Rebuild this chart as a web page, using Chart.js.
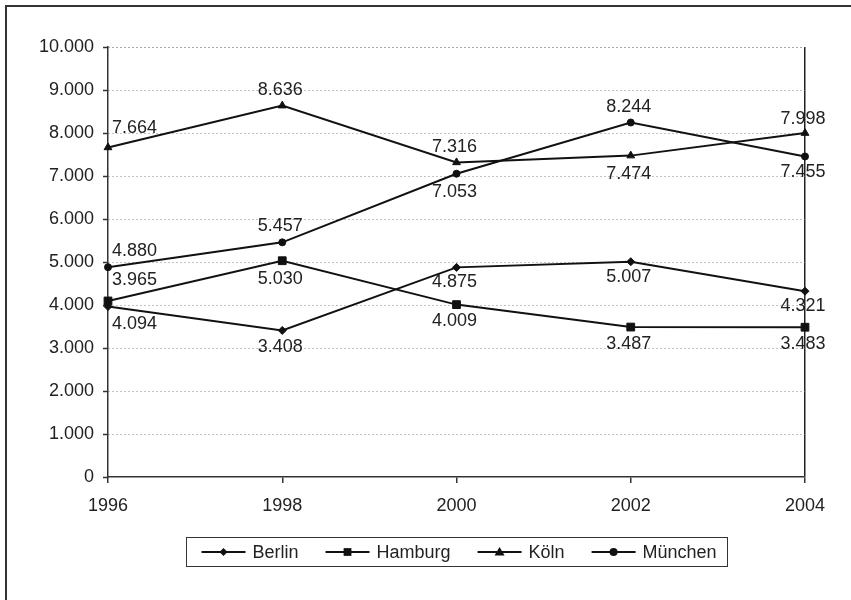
<!DOCTYPE html>
<html>
<head>
<meta charset="utf-8">
<script src="https://cdn.jsdelivr.net/npm/chart.js@4/dist/chart.umd.min.js"></script>
<style>
  html, body { margin: 0; padding: 0; background: #fff; }
  #wrap { width: 851px; height: 600px; position: relative; }
</style>
</head>
<body>
<div id="wrap"><canvas id="c" width="851" height="600"></canvas></div>
<script>
// Categories (years) and series values
const years = ['1996', '1998', '2000', '2002', '2004'];
const berlin = [3965, 3408, 4875, 5007, 4321];
const hamburg = [4094, 5030, 4009, 3487, 3483];
const koeln = [7664, 8636, 7316, 7474, 7998];
const muenchen = [4880, 5457, 7053, 8244, 7455];

// Value axis range
const yMin = 0;
const yMax = 10000;
const yStep = 1000;

// Vertical offset of each value label from its marker (px)
const berlinLabelDy = [-26, 17, 15, 15, 15];
const hamburgLabelDy = [23, 18, 16, 17, 17];
const koelnLabelDy = [-19, -16, -15, 18, -14];
const muenchenLabelDy = [-16, -16, 18, -15, 16];

const FONT = '"Liberation Sans", Arial, Helvetica, sans-serif';
const INK = '#111';
const TEXT = '#222';

// German thousands separator
function fmt(v) {
  return String(v).replace(/\B(?=(\d{3})+(?!\d))/g, '.');
}

function drawMarker(ctx, style, x, y, r) {
  ctx.beginPath();
  if (style === 'rectRot') {
    ctx.moveTo(x, y - r); ctx.lineTo(x + r, y); ctx.lineTo(x, y + r); ctx.lineTo(x - r, y);
  } else if (style === 'rect') {
    const s = r * Math.SQRT1_2;
    ctx.rect(x - s, y - s, 2 * s, 2 * s);
  } else if (style === 'triangle') {
    ctx.moveTo(x, y - r); ctx.lineTo(x + r, y + r * 0.7); ctx.lineTo(x - r, y + r * 0.7);
  } else {
    ctx.arc(x, y, r, 0, Math.PI * 2);
  }
  ctx.closePath();
  ctx.fill();
}

// Page frame (left and top edges of the surrounding box)
const framePlugin = {
  id: 'frame',
  beforeDraw(chart) {
    const ctx = chart.ctx;
    ctx.save();
    ctx.fillStyle = '#fff';
    ctx.fillRect(0, 0, chart.width, chart.height);
    ctx.strokeStyle = '#333';
    ctx.lineWidth = 2;
    ctx.beginPath();
    ctx.moveTo(6, chart.height + 2);
    ctx.lineTo(6, 6);
    ctx.lineTo(chart.width + 2, 6);
    ctx.stroke();
    ctx.restore();
  }
};

// Value labels next to each marker
const valueLabelPlugin = {
  id: 'valueLabels',
  afterDatasetsDraw(chart) {
    const ctx = chart.ctx;
    ctx.save();
    ctx.font = '18px ' + FONT;
    ctx.fillStyle = TEXT;
    ctx.textBaseline = 'middle';
    chart.data.datasets.forEach((ds, di) => {
      const meta = chart.getDatasetMeta(di);
      meta.data.forEach((pt, i) => {
        const txt = fmt(ds.data[i]);
        const dy = ds.labelDy[i];
        if (i === 0) {
          ctx.textAlign = 'left';
          ctx.fillText(txt, pt.x + 4, pt.y + dy);
        } else {
          ctx.textAlign = 'center';
          ctx.fillText(txt, pt.x - 2, pt.y + dy);
        }
      });
    });
    ctx.restore();
  }
};

// Boxed legend under the plot: line segment with marker, then name
const boxLegendPlugin = {
  id: 'boxLegend',
  afterDraw(chart) {
    const ctx = chart.ctx;
    const area = chart.chartArea;
    ctx.save();
    ctx.font = '18px ' + FONT;
    const lineLen = 44, textGap = 7, itemGap = 27, padL = 15, padR = 11;
    const items = chart.data.datasets.map(ds => ({ ds, w: ctx.measureText(ds.label).width }));
    let total = padL + padR;
    items.forEach((it, k) => { total += lineLen + textGap + it.w + (k ? itemGap : 0); });
    const top = 537, h = 29;
    const left = Math.round((area.left + area.right) / 2 - total / 2) + 0.5;
    ctx.strokeStyle = '#333';
    ctx.lineWidth = 1;
    ctx.strokeRect(left, top + 0.5, Math.round(total), h);
    const cy = top + h / 2 + 0.5;
    let x = left + padL;
    items.forEach((it, k) => {
      if (k) x += itemGap;
      ctx.strokeStyle = INK;
      ctx.lineWidth = 2;
      ctx.beginPath();
      ctx.moveTo(x, cy);
      ctx.lineTo(x + lineLen, cy);
      ctx.stroke();
      ctx.fillStyle = INK;
      drawMarker(ctx, it.ds.pointStyle, x + lineLen / 2, cy, it.ds.legendMarker);
      x += lineLen + textGap;
      ctx.fillStyle = TEXT;
      ctx.textAlign = 'left';
      ctx.textBaseline = 'middle';
      ctx.fillText(it.ds.label, x, cy + 1);
      x += it.w;
    });
    ctx.restore();
  }
};

function series(label, data, style, radius, legendMarker, labelDy) {
  return {
    label, data, labelDy, legendMarker,
    borderColor: INK,
    backgroundColor: INK,
    borderWidth: 2,
    tension: 0,
    pointStyle: style,
    pointRadius: radius,
    pointHoverRadius: radius,
    pointBackgroundColor: INK,
    pointBorderColor: INK,
    pointBorderWidth: 1,
    clip: false
  };
}

new Chart(document.getElementById('c'), {
  type: 'line',
  data: {
    labels: years,
    datasets: [
      series('Berlin', berlin, 'rectRot', 4, 4, berlinLabelDy),
      series('Hamburg', hamburg, 'rect', 5.5, 5.5, hamburgLabelDy),
      series('Köln', koeln, 'triangle', 4.5, 5, koelnLabelDy),
      series('München', muenchen, 'circle', 3.5, 4, muenchenLabelDy)
    ]
  },
  options: {
    responsive: false,
    devicePixelRatio: 1,
    animation: false,
    events: [],
    layout: { padding: { left: 0, right: 46, top: 47, bottom: 0 } },
    plugins: {
      legend: { display: false },
      tooltip: { enabled: false }
    },
    scales: {
      x: {
        type: 'category',
        offset: false,
        grid: {
          drawOnChartArea: true,
          color: c => (c.index === years.length - 1 ? '#222' : 'rgba(0,0,0,0)'),
          lineWidth: 1.5,
          drawTicks: true,
          tickLength: 6,
          tickColor: '#333',
          tickWidth: 1.5
        },
        border: { display: true, color: '#333', width: 1.5 },
        ticks: {
          font: { family: FONT, size: 18 },
          color: TEXT,
          padding: 12,
          maxRotation: 0,
          autoSkip: false
        },
        afterFit: s => { s.height = 123; }
      },
      y: {
        min: yMin,
        max: yMax,
        grid: {
          color: c => {
            if (c.tick && c.tick.value === yMin) return 'rgba(0,0,0,0)';
            if (c.tick && c.tick.value === yMax) return '#555';
            return '#888';
          },
          lineWidth: 1,
          drawTicks: true,
          tickLength: 5,
          tickColor: '#333',
          tickWidth: 1.5
        },
        border: { display: true, color: '#333', width: 1.5, dash: [1, 3] },
        ticks: {
          stepSize: yStep,
          font: { family: FONT, size: 18 },
          color: TEXT,
          padding: 9,
          callback: v => fmt(v)
        },
        afterFit: s => { s.width = 108; }
      }
    }
  },
  plugins: [framePlugin, valueLabelPlugin, boxLegendPlugin]
});
</script>
</body>
</html>
